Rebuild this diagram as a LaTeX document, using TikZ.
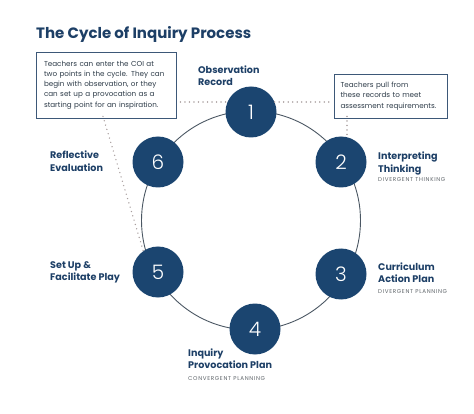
\documentclass[tikz,border=0pt]{standalone}
\usepackage{fontspec}
\setmainfont{Poppins}
\newfontfamily\numfont{Poppins Light}
\newfontfamily\capsfont{Poppins}[LetterSpace=12]
\definecolor{cblue}{HTML}{1B4570}
\definecolor{hblue}{HTML}{1D3F66}
\definecolor{subgrey}{HTML}{5E6469}
\definecolor{boxtext}{HTML}{2D3B48}
\definecolor{boxline}{HTML}{3D5878}
\definecolor{ringline}{HTML}{4B5763}
\definecolor{dotcol}{HTML}{A89E9E}
\begin{document}
\begin{tikzpicture}[x=1pt,y=-1pt,
  stepnode/.style={circle, fill=cblue, minimum size=51pt, inner sep=0pt, text=white, font=\numfont\fontsize{20}{20}\selectfont},
  heading/.style={anchor=north west, inner sep=0pt, align=left, text=hblue, font=\bfseries\fontsize{9.6}{12.5}\selectfont},
  subtitle/.style={anchor=north west, inner sep=0pt, text=subgrey, font=\capsfont\fontsize{5.6}{6}\selectfont},
  notebox/.style={draw=boxline, line width=0.9pt, inner sep=0pt, text=boxtext, align=left, font=\fontsize{7.2}{10.3}\selectfont},
  dots/.style={draw=dotcol, line width=1.5pt, line cap=round, dash pattern=on 0.01pt off 4.5pt},
  ring/.style={draw=ringline, line width=0.9pt}]
\useasboundingbox (0,0) rectangle (474,414);
% title
\node[anchor=base west, inner sep=0pt, text=hblue, font=\bfseries\fontsize{15}{18}\selectfont] (title) at (36,38.7) {The Cycle of Inquiry Process};
% ring
\coordinate (c) at (251,220.5);
\draw[ring] (c) circle (109.5);
% steps
\node[stepnode] (n1) at (251,112) {1};
\node[stepnode] (n2) at (341,162) {2};
\node[stepnode] (n3) at (341,274) {3};
\node[stepnode] (n4) at (255,329) {4};
\node[stepnode] (n5) at (158,272) {5};
\node[stepnode] (n6) at (158,162) {6};
% notes
\node[notebox, minimum width=140pt, minimum height=66pt, text width=124pt] (lbox) at (106,85)
  {Teachers can enter the COI at\\two points in the cycle. They can\\begin with observation, or they\\can set up a provocation as a\\starting point for an inspiration.};
\node[notebox, minimum width=113pt, minimum height=44pt, text width=100pt] (rbox) at (390.5,96)
  {Teachers pull from\\these records to meet\\assessment requirements.};
% dotted connectors
\draw[dots] ([xshift=4pt]lbox.east |- n1.157) -- (n1.157);
\draw[dots] (n1.23) -- ([xshift=-2pt]rbox.west |- n1.23);
\draw[dots] ([yshift=2pt]n2.76 |- rbox.south) -- (n2.76);
\draw[dots] ([xshift=-3pt,yshift=2pt]lbox.south) -- (n5.125);
% labels
\node[heading] (l1) at (198,65.5) {Observation\\Record};
\node[heading] (l6) at (50,150.7) {Reflective\\Evaluation};
\node[heading] (l2) at (378,151.7) {Interpreting\\Thinking};
\node[subtitle] (s2) at (378,177) {DIVERGENT THINKING};
\node[heading] (l5) at (50,261) {Set Up \&\\Facilitate Play};
\node[heading] (l3) at (378,262.3) {Curriculum\\Action Plan};
\node[subtitle] (s3) at (378,289.3) {DIVERGENT PLANNING};
\node[heading] (l4) at (188,348.3) {Inquiry\\Provocation Plan};
\node[subtitle] (s4) at (188,376.3) {CONVERGENT PLANNING};
\end{tikzpicture}
\end{document}
